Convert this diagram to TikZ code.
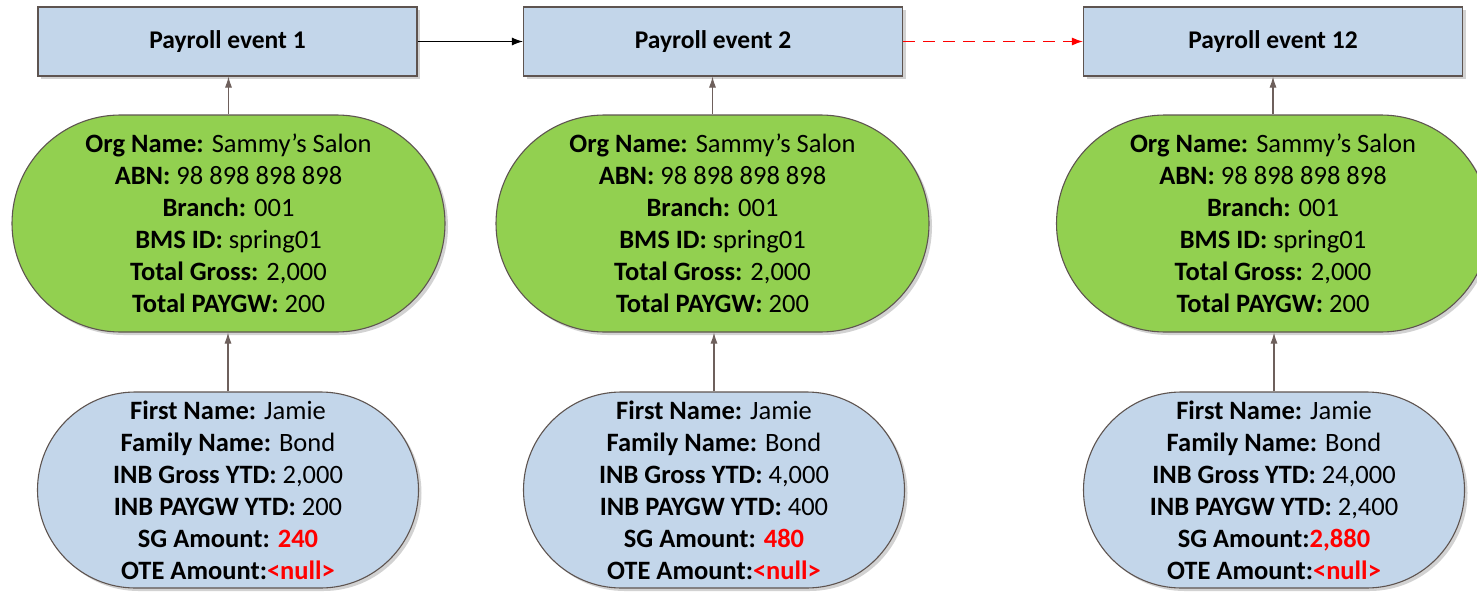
\documentclass[tikz,border=0pt]{standalone}
\usepackage{fontspec}
\setmainfont{Carlito}
\usetikzlibrary{arrows.meta,shapes.misc,shadows}
\definecolor{boxblue}{RGB}{195,214,234}
\definecolor{leafgreen}{RGB}{146,208,80}
\definecolor{edgegray}{RGB}{94,84,80}
\definecolor{linkbrown}{RGB}{110,96,92}
\definecolor{alertred}{RGB}{255,0,0}
% a bold field name followed by its value
\newcommand\fld[2]{\textbf{#1}#2}
% a value shown in bold red
\newcommand\hot[1]{\textcolor{alertred}{\textbf{#1}}}
\begin{document}
\begin{tikzpicture}[x=1pt,y=-1pt,
  shadowed/.style={drop shadow={shadow xshift=3pt,shadow yshift=-3pt,fill=black!35,opacity=0.5}},
  eventbox/.style={rectangle,draw=edgegray,fill=boxblue,line width=1.1pt,
    minimum width=379pt,minimum height=69pt,inner sep=0pt,
    font=\fontsize{25.5}{30}\selectfont\bfseries,shadowed},
  orgpill/.style={rounded rectangle,draw=edgegray,fill=leafgreen,line width=1.1pt,
    minimum width=433pt,minimum height=217pt,inner sep=0pt,align=center,
    font=\fontsize{26.5}{32}\selectfont,shadowed},
  emppill/.style={rounded rectangle,draw=edgegray,fill=boxblue,line width=1.1pt,
    minimum width=381pt,minimum height=196pt,inner sep=0pt,align=center,
    font=\fontsize{26.5}{32}\selectfont,shadowed},
  feedlink/.style={draw=linkbrown,line width=1.1pt,-{Latex[length=11pt,width=7pt]}},
  steplink/.style={draw=black,line width=1.1pt,-{Latex[length=11pt,width=8pt]}},
  jumplink/.style={draw=alertred,line width=1.3pt,dash pattern=on 12pt off 8pt,
    -{Latex[length=11pt,width=8pt]}}
]
\useasboundingbox (0,0) rectangle (1477,594);

% payroll events
\node[eventbox] (ev1) at (227.5,41.5) {Payroll event 1};
\node[eventbox] (ev2) at (713,41.5) {Payroll event 2};
\node[eventbox] (ev3) at (1273,41.5) {Payroll event 12};

% organisation records
\foreach \n/\x in {1/228.5,2/712.5,3/1273}{
  \node[orgpill] (org\n) at (\x,223.5) {%
    \fld{Org Name:}{ Sammy’s Salon}\\
    \fld{ABN:}{ 98 898 898 898}\\
    \fld{Branch:}{ 001}\\
    \fld{BMS ID:}{ spring01}\\
    \fld{Total Gross:}{ 2,000}\\
    \fld{Total PAYGW:}{ 200}};
}

% employee records
\node[emppill] (emp1) at (228,490) {%
  \fld{First Name:}{ Jamie}\\
  \fld{Family Name:}{ Bond}\\
  \fld{INB Gross YTD:}{ 2,000}\\
  \fld{INB PAYGW YTD:}{ 200}\\
  \fld{SG Amount:}{ \hot{240}}\\
  \fld{OTE Amount:}{\hot{<null>}}};
\node[emppill] (emp2) at (714,490) {%
  \fld{First Name:}{ Jamie}\\
  \fld{Family Name:}{ Bond}\\
  \fld{INB Gross YTD:}{ 4,000}\\
  \fld{INB PAYGW YTD:}{ 400}\\
  \fld{SG Amount:}{ \hot{480}}\\
  \fld{OTE Amount:}{\hot{<null>}}};
\node[emppill] (emp3) at (1274,490) {%
  \fld{First Name:}{ Jamie}\\
  \fld{Family Name:}{ Bond}\\
  \fld{INB Gross YTD:}{ 24,000}\\
  \fld{INB PAYGW YTD:}{ 2,400}\\
  \fld{SG Amount:}{\hot{2,880}}\\
  \fld{OTE Amount:}{\hot{<null>}}};

% connectors
\foreach \n in {1,2,3}{
  \draw[feedlink] (org\n.north) -- (org\n.north |- ev\n.south);
  \draw[feedlink] (emp\n.north) -- (emp\n.north |- org\n.south);
}
\draw[steplink] (ev1.east) -- (ev2.west);
\draw[jumplink] (ev2.east) -- (ev3.west);
\end{tikzpicture}
\end{document}
